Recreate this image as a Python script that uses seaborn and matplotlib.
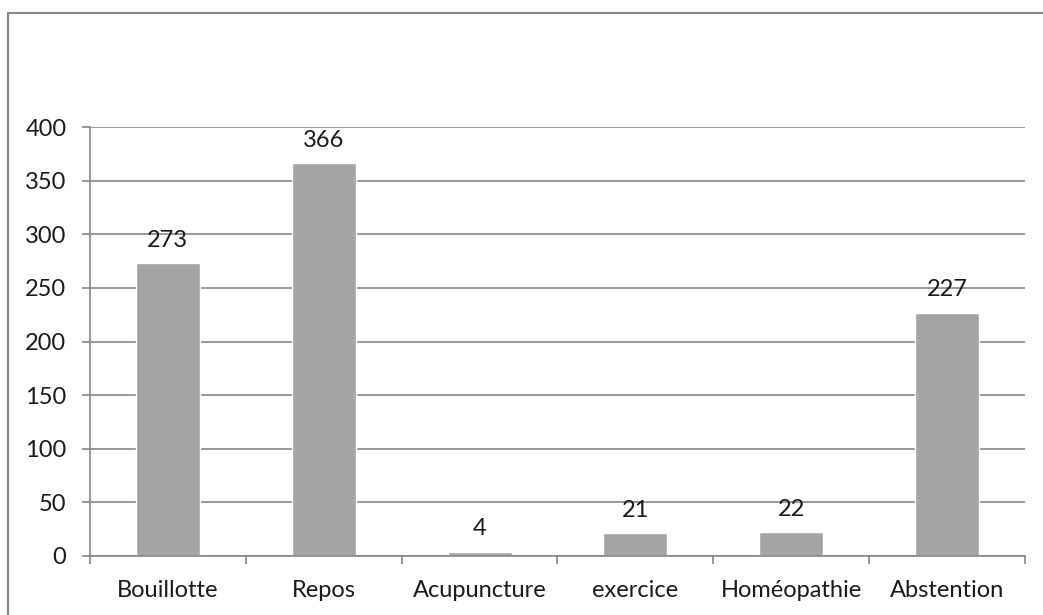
import matplotlib
matplotlib.use("Agg")
import matplotlib.pyplot as plt
import seaborn as sns
import pandas as pd
from matplotlib.patches import Rectangle

categories = ["Bouillotte", "Repos", "Acupuncture", "exercice", "Homéopathie", "Abstention"]
values = [273, 366, 4, 21, 22, 227]
yticks = [0, 50, 100, 150, 200, 250, 300, 350, 400]

sns.set_style("white")
plt.rcParams['font.family'] = ['Lato', 'DejaVu Sans']

GRID = "#868686"
BAR = "#A5A5A8"
TXT = "#1a1a1a"
FS = 17

df = pd.DataFrame({"cat": categories, "val": values})
fig = plt.figure(figsize=(10.43, 6.15), dpi=100)
ax = fig.add_axes([90/1043, 1-556/615, 935/1043, 429/615])

sns.barplot(data=df, x="cat", y="val", color=BAR, width=0.41, ax=ax, saturation=1)
ax.set_xlim(-0.5, len(categories)-0.5)
ax.set_ylim(0, 400)
ax.set_yticks(yticks)
ax.yaxis.grid(True, color=GRID, linewidth=1.2)
ax.set_axisbelow(True)
ax.set_xlabel("")
ax.set_ylabel("")
for s in ["top", "right"]:
    ax.spines[s].set_visible(False)
for s in ["left", "bottom"]:
    ax.spines[s].set_color(GRID)
    ax.spines[s].set_linewidth(1.2)

ax.tick_params(axis="y", length=6, color=GRID, width=1.2, pad=11, labelsize=FS, labelcolor=TXT)
ax.tick_params(axis="x", which="major", length=0, pad=17, labelsize=FS, labelcolor=TXT)
ax.set_xticks([i - 0.5 for i in range(len(categories)+1)], minor=True)
ax.tick_params(axis="x", which="minor", length=6, color=GRID, width=1.2)
ax.tick_params(axis="y", left=True)
ax.tick_params(axis="x", which="minor", bottom=True)

for i, v in enumerate(values):
    ax.annotate(str(v), (i, v), xytext=(0, 9), textcoords="offset points",
                ha="center", va="bottom", fontsize=FS, color=TXT)

border = Rectangle((8/1043, -0.05), 1.2, 1.05-13/615, transform=fig.transFigure,
                   fill=False, edgecolor=GRID, linewidth=1.5)
fig.patches.append(border)

fig.savefig("out.png", dpi=100)
